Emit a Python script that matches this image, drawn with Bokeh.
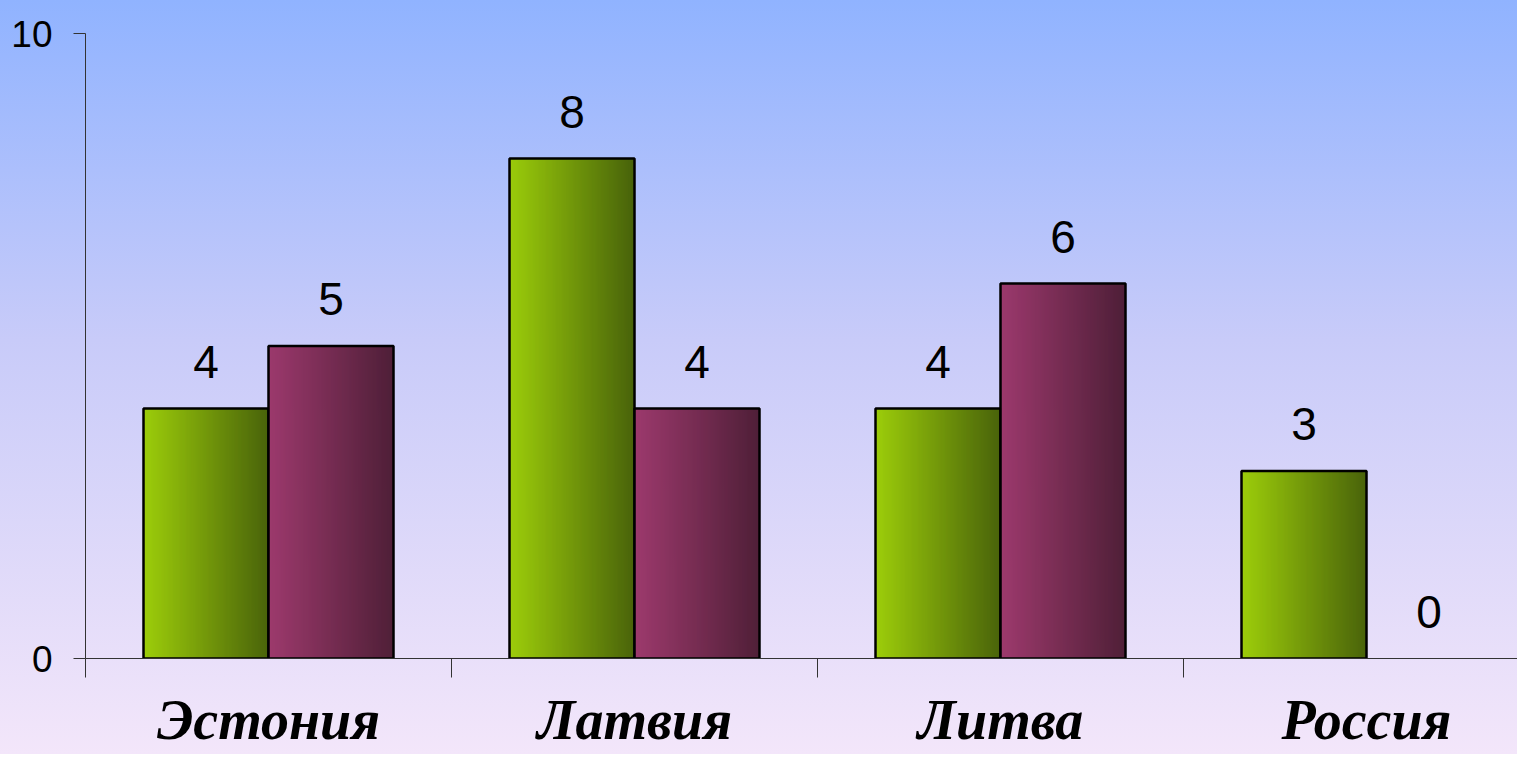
import numpy as np
from bokeh.plotting import figure
from bokeh.models import Range1d, FixedTicker
from bokeh.core.properties import value
from bokeh.embed import file_html
from bokeh.resources import INLINE

# ---- data ----
countries = ["Эстония", "Латвия", "Литва", "Россия"]
series_green = [4, 8, 4, 3]
series_purple = [5, 4, 6, 0]
y_ticks = [0, 10]

# ---- layout ----
W, H = 1517, 754
LEFT, TOP, FRAME_BOTTOM = 85, 33, 658
CAT_PX = 366
x_end = (W - LEFT) / CAT_PX
bw = 125 / CAT_PX  # bar width in category units

p = figure(width=W, height=H, output_backend="svg", toolbar_location=None,
           x_range=Range1d(0, x_end), y_range=Range1d(0, 10),
           min_border_left=LEFT, min_border_right=0,
           min_border_top=TOP, min_border_bottom=H - FRAME_BOTTOM)

p.styles = {"background": "linear-gradient(180deg, #90b3ff 0%, #c8cbf9 45%, #f3e6fa 100%)"}
p.background_fill_alpha = 0
p.border_fill_alpha = 0
p.outline_line_color = None
p.xgrid.visible = False
p.ygrid.visible = False


def hex2rgb(h):
    h = h.lstrip("#")
    return np.array([int(h[i:i + 2], 16) for i in (0, 2, 4)], dtype=float)


def gradient_bars(vals, offset, c0, c1, n=125):
    a, b = hex2rgb(c0), hex2rgb(c1)
    xs, tops, cols = [], [], []
    for i, v in enumerate(vals):
        if v <= 0:
            continue
        x0 = i + 0.5 + offset - bw / 2
        for k in range(n):
            t = k / (n - 1)
            c = a + (b - a) * t
            cols.append("#%02x%02x%02x" % tuple(int(round(q)) for q in c))
            xs.append(x0 + (k + 0.5) * bw / n)
            tops.append(v)
    p.vbar(x=xs, top=tops, width=bw / n * 1.6, bottom=0,
           fill_color=cols, line_color=None)
    centers = [i + 0.5 + offset for i, v in enumerate(vals) if v > 0]
    hv = [v for v in vals if v > 0]
    p.vbar(x=centers, top=hv, width=bw, bottom=0, fill_color=None,
           line_color="black", line_width=2.5)
    p.text(x=[i + 0.5 + offset for i in range(len(vals))], y=vals,
           text=[str(v) for v in vals], text_align="center",
           text_baseline="alphabetic", y_offset=-47,
           text_font=value("Liberation Sans"), text_font_size="46px",
           text_color="black")


gradient_bars(series_green, -bw / 2, "#9acd00", "#445f00")
gradient_bars(series_purple, bw / 2, "#9a3367", "#4a1830")

# x axis: labels at category centres, separators as minor ticks
xa = p.xaxis[0]
xa.ticker = FixedTicker(ticks=[i + 0.5 for i in range(len(countries))],
                        minor_ticks=list(range(len(countries))))
xa.major_label_overrides = {i + 0.5: c for i, c in enumerate(countries)}
xa.major_tick_out = 0
xa.major_tick_in = 0
xa.minor_tick_out = 19
xa.minor_tick_in = 0
xa.minor_tick_line_color = "#333333"
xa.axis_line_color = "#333333"
xa.major_label_text_font = "Liberation Serif"
xa.major_label_text_font_style = "bold italic"
xa.major_label_text_font_size = "56px"
xa.major_label_text_color = "black"
xa.major_label_standoff = 11

# y axis
ya = p.yaxis[0]
ya.ticker = FixedTicker(ticks=y_ticks, minor_ticks=[])
ya.major_tick_out = 12
ya.major_tick_in = 0
ya.minor_tick_out = 0
ya.minor_tick_in = 0
ya.major_tick_line_color = "#333333"
ya.axis_line_color = "#333333"
ya.major_label_text_font = "Liberation Sans"
ya.major_label_text_font_size = "37px"
ya.major_label_text_color = "black"
ya.major_label_standoff = 21

open("out.html", "w").write(file_html(p, INLINE))
